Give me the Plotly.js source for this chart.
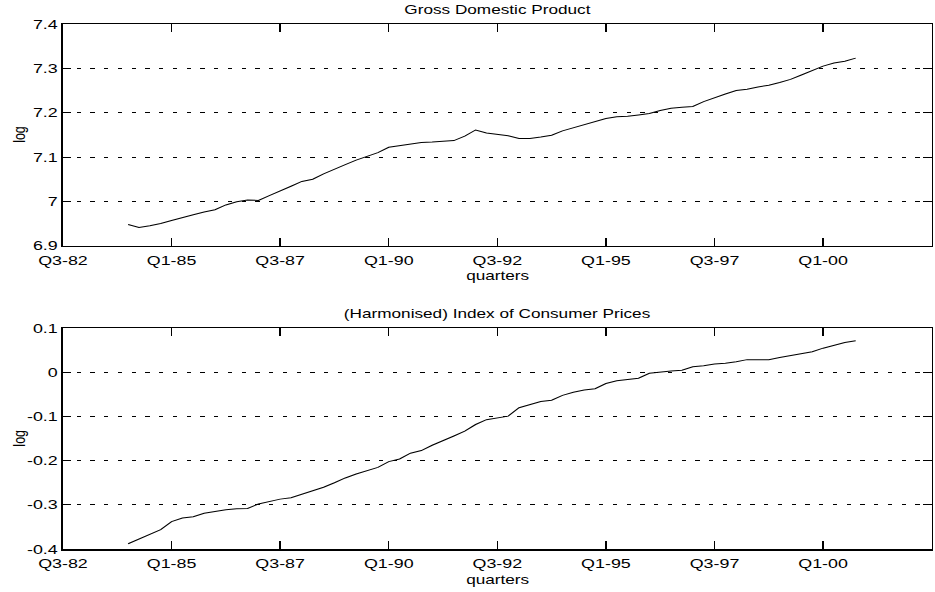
<!DOCTYPE html>
<html>
<head>
<meta charset="utf-8">
<script src="https://cdn.plot.ly/plotly-3.0.1.min.js"></script>
<style>
  html, body { margin: 0; padding: 0; background: #fff; overflow: hidden; }
  #wrap { width: 935px; height: 592px; overflow: hidden; }
  /* the figure is laid out on a 680px-wide canvas and widened to the page */
  #chart { width: 680px; height: 592px; transform: scaleX(1.375); transform-origin: 0 0; }
</style>
</head>
<body>
<div id="wrap"><div id="chart"></div></div>
<script>
// Quarter labels along the axis: Q3-82 through Q3-02
function quarterLabel(n) {
  const y = Math.floor(n / 4), q = n % 4 + 1;
  return 'Q' + q + '-' + String(y % 100).padStart(2, '0');
}
const axisStart = 1982 * 4 + 2;           // Q3-82
const axisQuarters = [];
for (let i = 0; i <= 80; i++) axisQuarters.push(quarterLabel(axisStart + i));

const tickQuarters = ['Q3-82', 'Q1-85', 'Q3-87', 'Q1-90', 'Q3-92', 'Q1-95', 'Q3-97', 'Q1-00'];

// Observations run Q1-84 .. Q4-00
const dataQuarters = axisQuarters.slice(6, 74);

// log of real GDP
const gdpLog = [
  6.948, 6.941, 6.945, 6.950, 6.957, 6.964, 6.970, 6.976, 6.981, 6.992,
  6.999, 7.003, 7.002, 7.013, 7.023, 7.034, 7.045, 7.050, 7.062, 7.073,
  7.083, 7.093, 7.102, 7.110, 7.122, 7.126, 7.129, 7.133, 7.134, 7.135,
  7.137, 7.147, 7.161, 7.154, 7.151, 7.148, 7.142, 7.142, 7.145, 7.149,
  7.159, 7.166, 7.174, 7.181, 7.187, 7.191, 7.192, 7.195, 7.198, 7.205,
  7.210, 7.212, 7.214, 7.225, 7.234, 7.242, 7.250, 7.253, 7.258, 7.262,
  7.268, 7.275, 7.285, 7.295, 7.305, 7.312, 7.316, 7.323
];

// log of the (harmonised) consumer price index
const hicpLog = [
  -0.388, -0.377, -0.367, -0.356, -0.338, -0.330, -0.327, -0.319, -0.315, -0.311,
  -0.309, -0.308, -0.298, -0.292, -0.287, -0.284, -0.276, -0.268, -0.260, -0.250,
  -0.239, -0.230, -0.223, -0.215, -0.202, -0.196, -0.183, -0.177, -0.165, -0.155,
  -0.144, -0.133, -0.118, -0.107, -0.103, -0.099, -0.080, -0.073, -0.066, -0.063,
  -0.052, -0.045, -0.040, -0.037, -0.025, -0.019, -0.016, -0.013, -0.002, 0.001,
  0.003, 0.005, 0.013, 0.015, 0.019, 0.021, 0.024, 0.029, 0.029, 0.029,
  0.034, 0.038, 0.042, 0.047, 0.055, 0.062, 0.068, 0.072
];

const gdpTicks = [6.9, 7.0, 7.1, 7.2, 7.3, 7.4];
const gdpTickText = ['6.9', '7', '7.1', '7.2', '7.3', '7.4'];
const hicpTicks = [-0.4, -0.3, -0.2, -0.1, 0, 0.1];
const hicpTickText = ['-0.4', '-0.3', '-0.2', '-0.1', '0', '0.1'];

const FONT = 'Liberation Sans, Arial, Helvetica, sans-serif';
const W = 680, H = 592;
const px = v => v / W;
const py = v => 1 - v / H;

const xDomain = [45.8 / W, 677.6 / W];
const topDomain = [py(245.7), py(24)];
const botDomain = [py(549), py(328.3)];

function xAxis(domain, anchor) {
  return {
    domain: domain, anchor: anchor,
    type: 'category', categoryorder: 'array', categoryarray: axisQuarters,
    range: [0, 80],
    tickvals: tickQuarters, ticktext: tickQuarters,
    ticks: 'inside', ticklen: 8, tickwidth: 1, tickcolor: '#000',
    ticklabelstandoff: 2,
    showline: true, linecolor: '#000', linewidth: 1.5, mirror: 'ticks',
    showgrid: false, zeroline: false,
    tickfont: { family: FONT, size: 13, color: '#000' },
    fixedrange: true
  };
}
function yAxis(domain, anchor, range, vals, text) {
  return {
    domain: domain, anchor: anchor,
    range: range, tickvals: vals, ticktext: text,
    ticks: 'inside', ticklen: 6, tickwidth: 1, tickcolor: '#000',
    showline: true, linecolor: '#000', linewidth: 1.2, mirror: 'ticks',
    showgrid: true, gridcolor: '#000', gridwidth: 1, griddash: '3px,7px',
    zeroline: false,
    tickfont: { family: FONT, size: 13, color: '#000' },
    fixedrange: true
  };
}

const traces = [
  { x: dataQuarters, y: gdpLog, xaxis: 'x', yaxis: 'y', type: 'scatter', mode: 'lines',
    line: { color: '#000', width: 1 }, hoverinfo: 'skip' },
  { x: dataQuarters, y: hicpLog, xaxis: 'x2', yaxis: 'y2', type: 'scatter', mode: 'lines',
    line: { color: '#000', width: 1 }, hoverinfo: 'skip' }
];

const xc = (xDomain[0] + xDomain[1]) / 2;
const txt = (text, x, y, size, angle) => ({
  text: text, x: x, y: y, xref: 'paper', yref: 'paper',
  xanchor: 'center', yanchor: 'middle', showarrow: false, textangle: angle || 0,
  font: { family: FONT, size: size, color: '#000' }
});

const layout = {
  width: W, height: H,
  margin: { l: 0, r: 0, t: 0, b: 0, pad: 0 },
  paper_bgcolor: '#fff', plot_bgcolor: '#fff',
  showlegend: false,
  xaxis: xAxis(xDomain, 'y'),
  yaxis: yAxis(topDomain, 'x', [6.9, 7.4], gdpTicks, gdpTickText),
  xaxis2: xAxis(xDomain, 'y2'),
  yaxis2: yAxis(botDomain, 'x2', [-0.4, 0.1], hicpTicks, hicpTickText),
  annotations: [
    txt('Gross Domestic Product', xc, py(10), 12.5),
    txt('quarters', xc, py(275.5), 12.5),
    txt('log', px(14), (topDomain[0] + topDomain[1]) / 2, 12.5, -90),
    txt('(Harmonised) Index of Consumer Prices', xc, py(313.5), 12.5),
    txt('quarters', xc, py(580), 12.5),
    txt('log', px(14), (botDomain[0] + botDomain[1]) / 2, 12.5, -90)
  ]
};

Plotly.newPlot('chart', traces, layout, { staticPlot: true, displayModeBar: false });
</script>
</body>
</html>
